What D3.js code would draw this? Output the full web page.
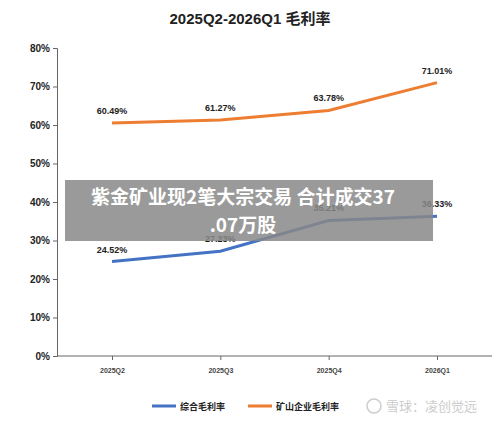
<!DOCTYPE html>
<html><head><meta charset="utf-8">
<script src="https://cdn.jsdelivr.net/npm/d3@7"></script>
<style>body{margin:0;background:#fff}</style></head>
<body><svg id="c" width="500" height="423"></svg>
<script>
const categories=["2025Q2","2025Q3","2025Q4","2026Q1"];
const overall=[24.52,27.23,35.21,36.33];
const mining=[60.49,61.27,63.78,71.01];
const yTicks=[0,10,20,30,40,50,60,70,80];
const svg=d3.select("#c");
const F="Liberation Sans, Arial, sans-serif";
const x=d3.scalePoint().domain(categories).range([112,437]);
const y=d3.scaleLinear().domain([0,80]).range([356,48]);
svg.append("text").attr("x",250).attr("y",24).attr("text-anchor","middle").attr("font-family","Liberation Sans, Noto Sans CJK SC").attr("font-weight","bold").attr("font-size",15).attr("fill","#222").text("2025Q2-2026Q1 毛利率");
const ya=svg.append("g").attr("transform","translate(57,0)").call(d3.axisLeft(y).tickValues(yTicks).tickFormat(d=>d+"%").tickSize(4));
ya.selectAll("text").attr("font-family",F).attr("font-weight","bold").attr("font-size",10).attr("fill","#222");
ya.select(".domain").attr("stroke","#666");ya.selectAll(".tick line").attr("stroke","#666");
const xa=svg.append("g").attr("transform","translate(0,356)").call(d3.axisBottom(x).tickSize(4));
xa.select(".domain").attr("d","M57,0H492").attr("stroke","#666");xa.selectAll(".tick line").attr("stroke","#666");
xa.selectAll("text").attr("font-family",F).attr("font-size",7).attr("font-weight","bold").attr("fill","#444").attr("dy","1.4em");
const line=d3.line().x((d,i)=>x(categories[i])).y(d=>y(d));
[[overall,"#4472c4"],[mining,"#ed7d31"]].forEach(([s,c])=>{
svg.append("path").attr("d",line(s)).attr("fill","none").attr("stroke",c).attr("stroke-width",3);
svg.selectAll(null).data(s).enter().append("text").attr("x",(d,i)=>x(categories[i])).attr("y",d=>y(d)-9).attr("text-anchor","middle").attr("font-family",F).attr("font-weight","bold").attr("font-size",9).attr("fill","#222").text(d=>d.toFixed(2)+"%");
});
svg.append("rect").attr("x",65).attr("y",180).attr("width",368).attr("height",61).attr("fill","#888").attr("opacity",0.85);
svg.append("text").attr("x",243).attr("y",204).attr("text-anchor","middle").attr("font-family","Noto Sans CJK SC").attr("font-weight","bold").attr("font-size",19).attr("fill","#fff").text("紫金矿业现2笔大宗交易 合计成交37");
svg.append("text").attr("x",243).attr("y",232).attr("text-anchor","middle").attr("font-family","Noto Sans CJK SC").attr("font-weight","bold").attr("font-size",19).attr("fill","#fff").text(".07万股");
const lg=[["综合毛利率","#4472c4",152],["矿山企业毛利率","#ed7d31",248]];
lg.forEach(([t,c,lx])=>{svg.append("line").attr("x1",lx).attr("x2",lx+24).attr("y1",406).attr("y2",406).attr("stroke",c).attr("stroke-width",3);
svg.append("text").attr("x",lx+28).attr("y",410).attr("font-family","Noto Sans CJK SC").attr("font-weight","bold").attr("font-size",9).attr("fill","#222").text(t);});
svg.append("circle").attr("cx",374).attr("cy",406).attr("r",7).attr("fill","none").attr("stroke","#ccc").attr("stroke-width",1.5);
svg.append("text").attr("x",386).attr("y",411).attr("font-family","Noto Sans CJK SC").attr("font-size",13).attr("fill","#ccc").text("雪球：凌创觉远");
</script></body></html>
